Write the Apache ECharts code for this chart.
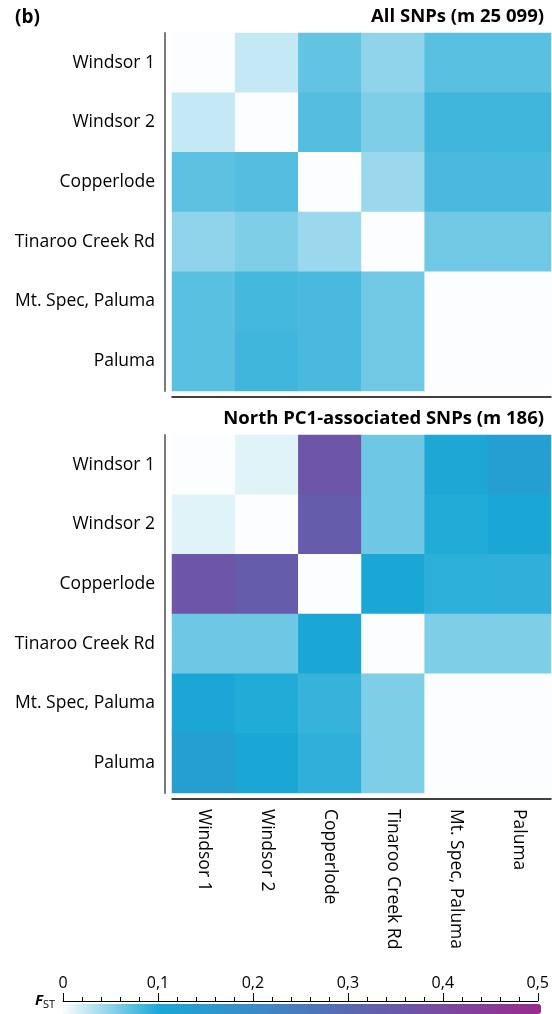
<!DOCTYPE html>
<html>
<head>
<meta charset="utf-8">
<script src="https://cdn.jsdelivr.net/npm/echarts@6/dist/echarts.min.js"></script>
<style>
  html, body { margin: 0; padding: 0; background: #fff; }
  #chart { width: 552px; height: 1014px; }
</style>
</head>
<body>
<div id="chart"></div>
<script>
// populations, same order on both axes
const populations = ['Windsor 1', 'Windsor 2', 'Copperlode', 'Tinaroo Creek Rd', 'Mt. Spec, Paluma', 'Paluma']

// pairwise FST, all SNPs (rows = y axis, top to bottom)
const allSnps = [
  [0, 0.024, 0.068, 0.048, 0.072, 0.072],
  [0.024, 0, 0.074, 0.055, 0.083, 0.084],
  [0.070, 0.074, 0, 0.043, 0.079, 0.079],
  [0.048, 0.055, 0.043, 0, 0.062, 0.062],
  [0.072, 0.081, 0.079, 0.062, 0, 0],
  [0.072, 0.083, 0.079, 0.062, 0, 0]
]

// pairwise FST, North PC1-associated SNPs
const northSnps = [
  [0, 0.012, 0.360, 0.063, 0.105, 0.135],
  [0.012, 0, 0.335, 0.063, 0.097, 0.103],
  [0.360, 0.335, 0, 0.104, 0.092, 0.091],
  [0.063, 0.063, 0.104, 0, 0.055, 0.055],
  [0.106, 0.097, 0.087, 0.055, 0, 0],
  [0.135, 0.103, 0.091, 0.055, 0, 0]
]

const panelTitles = ['All SNPs (m 25 099)', 'North PC1-associated SNPs (m 186)']
const fstRange = [0, 0.5]

const font = 'Open Sans'

function toCells(matrix) {
  const out = []
  matrix.forEach((row, i) => {
    row.forEach((v, j) => {
      out.push([j, i, v])
    })
  })
  return out
}

const chart = echarts.init(document.getElementById('chart'))

const panelTops = [33, 435]

const grids = panelTops.map(t => ({ left: 172, top: t, width: 379, height: 358 }))
grids.push({ left: 63, right: 11, top: 1000, height: 1 })

const xAxes = panelTops.map((t, k) => ({
  type: 'category',
  gridIndex: k,
  data: populations,
  offset: 6,
  axisLine: { lineStyle: { color: '#000', width: 1.5 } },
  axisTick: { alignWithLabel: true, length: 5, lineStyle: { color: '#000' } },
  axisLabel: {
    show: k === 1,
    rotate: -90,
    margin: 10,
    fontFamily: font,
    fontSize: 17.5,
    color: '#000'
  },
  splitLine: { show: false }
}))
xAxes.push({
  type: 'value',
  gridIndex: 2,
  min: fstRange[0],
  max: fstRange[1],
  interval: 0.1,
  position: 'bottom',
  axisLine: { lineStyle: { color: '#000', width: 1 } },
  axisTick: { inside: true, length: 8, lineStyle: { color: '#000' } },
  minorTick: { show: true, splitNumber: 5, length: 4, lineStyle: { color: '#000' } },
  axisLabel: {
    inside: true,
    margin: 10,
    fontFamily: font,
    fontSize: 16,
    color: '#000',
    formatter: v => v === 0 ? '0' : v.toFixed(1).replace('.', ',')
  },
  splitLine: { show: false },
  name: '{f|F}{s|ST}',
  nameLocation: 'start',
  nameGap: 8,
  nameTextStyle: {
    rich: {
      f: { fontFamily: font, fontSize: 15, fontWeight: 'bold', fontStyle: 'italic', color: '#000' },
      s: { fontFamily: font, fontSize: 11, color: '#000', padding: [8, 0, 0, 0] }
    }
  }
})

const yAxes = panelTops.map((t, k) => ({
  type: 'category',
  gridIndex: k,
  data: populations,
  inverse: true,
  offset: 7,
  axisLine: { lineStyle: { color: '#7a7a7a', width: 2 } },
  axisTick: { alignWithLabel: true, length: 5, lineStyle: { color: '#000' } },
  axisLabel: { margin: 10, fontFamily: font, fontSize: 17.5, color: '#000' },
  splitLine: { show: false }
}))
yAxes.push({ type: 'value', gridIndex: 2, show: false })

const option = {
  backgroundColor: '#fff',
  animation: false,
  title: [
    {
      text: '(b)', left: 10, top: 3,
      textStyle: { fontFamily: font, fontSize: 19, fontWeight: 'bold', color: '#000' }
    },
    {
      text: panelTitles[0], right: 3, top: 2,
      textStyle: { fontFamily: font, fontSize: 18.5, fontWeight: 'bold', color: '#000' }
    },
    {
      text: panelTitles[1], right: 3, top: 404,
      textStyle: { fontFamily: font, fontSize: 18.5, fontWeight: 'bold', color: '#000' }
    }
  ],
  grid: grids,
  xAxis: xAxes,
  yAxis: yAxes,
  visualMap: {
    type: 'continuous',
    min: fstRange[0],
    max: fstRange[1],
    seriesIndex: [0, 1],
    orient: 'horizontal',
    left: 63,
    top: 1004,
    padding: 0,
    itemWidth: 10,
    itemHeight: 478,
    calculable: false,
    showLabel: false,
    text: null,
    hoverLink: false,
    inRange: {
      color: ['#fbfdfe', '#1aa8d6', '#3a8bc7', '#5a68b0', '#7a49a1', '#9a2a8c']
    }
  },
  series: [
    {
      type: 'heatmap',
      xAxisIndex: 0,
      yAxisIndex: 0,
      data: toCells(allSnps),
      itemStyle: { borderWidth: 0 }
    },
    {
      type: 'heatmap',
      xAxisIndex: 1,
      yAxisIndex: 1,
      data: toCells(northSnps),
      itemStyle: { borderWidth: 0 }
    }
  ]
}

chart.setOption(option)
</script>
</body>
</html>
